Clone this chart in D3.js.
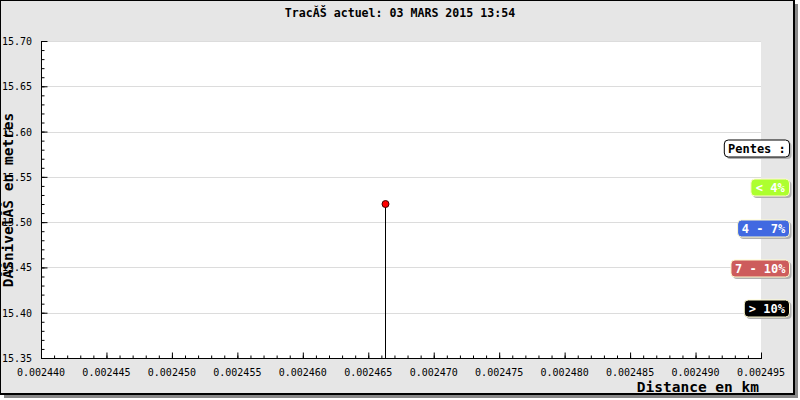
<!DOCTYPE html>
<html>
<head>
<meta charset="utf-8">
<script src="https://cdn.jsdelivr.net/npm/d3@7/dist/d3.min.js"></script>
<style>
  html, body { margin: 0; padding: 0; background: #fff; }
  svg { display: block; }
</style>
</head>
<body>
<script>
// ---- data ----
const titleText = "Trac\u0102\u0160 actuel: 03 MARS 2015 13:54";
const yLabelText = "D\u0102\u0160nivel\u0102\u0160 en metres";
const xLabelText = "Distance en km";
const distance = [0.0024663];
const elevation = [15.52];
const xDomain = [0.002440, 0.002495];
const yDomain = [15.35, 15.70];
const xTickValues = [0.002440, 0.002445, 0.002450, 0.002455, 0.002460, 0.002465, 0.002470, 0.002475, 0.002480, 0.002485, 0.002490, 0.002495];
const yTickValues = [15.35, 15.40, 15.45, 15.50, 15.55, 15.60, 15.65, 15.70];
const legendTitle = "Pentes :";
const legendLabels = ["< 4%", "4 - 7%", "7 - 10%", "> 10%"];
const legendColors = ["#adff2f", "#4169e1", "#cd5c5c", "#000000"];

// ---- layout ----
const W = 800, H = 400;
const plot = { left: 41, top: 41, right: 761, bottom: 358 };
const mono = "'DejaVu Sans Mono', 'Liberation Mono', monospace";

const svg = d3.select("body").append("svg").attr("width", W).attr("height", H);

// frame with shadow
svg.append("rect").attr("x", 4).attr("y", 4).attr("width", 794).attr("height", 394).attr("fill", "#888");
svg.append("rect").attr("x", 0.5).attr("y", 0.5).attr("width", 793).attr("height", 393)
  .attr("fill", "#e6e6e6").attr("stroke", "#000").attr("stroke-width", 1);
svg.append("line").attr("x1", 794).attr("x2", 794).attr("y1", 0).attr("y2", 395).attr("stroke", "#000").attr("stroke-width", 2);
svg.append("line").attr("x1", 0).attr("x2", 795).attr("y1", 394).attr("y2", 394).attr("stroke", "#000").attr("stroke-width", 2);

// plot area
svg.append("rect").attr("x", plot.left).attr("y", plot.top)
  .attr("width", plot.right - plot.left).attr("height", plot.bottom - plot.top).attr("fill", "#fff");

const x = d3.scaleLinear().domain(xDomain).range([plot.left, plot.right]);
const y = d3.scaleLinear().domain(yDomain).range([plot.bottom, plot.top]);

// gridlines
svg.append("g").selectAll("line").data(yTickValues.slice(1)).join("line")
  .attr("x1", plot.left).attr("x2", plot.right)
  .attr("y1", d => Math.round(y(d)) + 0.5).attr("y2", d => Math.round(y(d)) + 0.5)
  .attr("stroke", "#dcdcdc").attr("stroke-width", 1);

// minor ticks
const xMinor = d3.range(0, 56).map(i => xDomain[0] + i * 0.000001);
const yMinor = d3.range(0, 36).map(i => yDomain[0] + i * 0.01);

const xAxisMinor = d3.axisTop(x).tickValues(xMinor).tickSize(3).tickFormat("");
const xAxisMajor = d3.axisTop(x).tickValues(xTickValues).tickSize(6).tickFormat("");
[xAxisMinor, xAxisMajor].forEach(ax => {
  const g = svg.append("g").attr("transform", `translate(0,${plot.bottom + 0.5})`).call(ax);
  g.select(".domain").remove();
  g.selectAll("line").attr("stroke", "#000");
});
const yAxisMinor = d3.axisRight(y).tickValues(yMinor).tickSize(3).tickFormat("");
const yAxisMajor = d3.axisRight(y).tickValues(yTickValues).tickSize(6).tickFormat("");
[yAxisMinor, yAxisMajor].forEach(ax => {
  const g = svg.append("g").attr("transform", `translate(${plot.left + 0.5},0)`).call(ax);
  g.select(".domain").remove();
  g.selectAll("line").attr("stroke", "#000");
});

// axis lines
svg.append("line").attr("x1", plot.left + 0.5).attr("x2", plot.left + 0.5).attr("y1", plot.top).attr("y2", plot.bottom + 1).attr("stroke", "#000");
svg.append("line").attr("x1", plot.left).attr("x2", plot.right + 1).attr("y1", plot.bottom + 0.5).attr("y2", plot.bottom + 0.5).attr("stroke", "#000");

// tick labels
svg.append("g").selectAll("text").data(xTickValues).join("text")
  .attr("x", d => x(d)).attr("y", 376)
  .attr("text-anchor", "middle").attr("font-family", mono).attr("font-size", 10).attr("fill", "#000")
  .text(d => d.toFixed(6));
svg.append("g").selectAll("text").data(yTickValues).join("text")
  .attr("x", 2).attr("y", d => y(d) + 4)
  .attr("font-family", mono).attr("font-size", 10).attr("fill", "#000")
  .text(d => d.toFixed(2));

// title
svg.append("text").attr("x", 400).attr("y", 17).attr("text-anchor", "middle")
  .attr("font-family", mono).attr("font-weight", "bold").attr("font-size", 11.6).text(titleText);

// axis labels
svg.append("text").attr("x", 759).attr("y", 392).attr("text-anchor", "end")
  .attr("font-family", mono).attr("font-weight", "bold").attr("font-size", 14.5).text(xLabelText);
svg.append("text").attr("transform", "translate(13,200) rotate(-90)").attr("text-anchor", "middle")
  .attr("font-family", mono).attr("font-weight", "bold").attr("font-size", 14.5).text(yLabelText);

// data: stem + point
const pts = distance.map((d, i) => ({ x: d, y: elevation[i] }));
svg.append("g").selectAll("line").data(pts).join("line")
  .attr("x1", d => Math.round(x(d.x)) + 0.5).attr("x2", d => Math.round(x(d.x)) + 0.5)
  .attr("y1", d => y(d.y)).attr("y2", plot.bottom)
  .attr("stroke", "#000").attr("stroke-width", 1);
svg.append("g").selectAll("circle").data(pts).join("circle")
  .attr("cx", d => Math.round(x(d.x)) + 0.5).attr("cy", d => y(d.y)).attr("r", 3.5)
  .attr("fill", "#ff0000").attr("stroke", "#400").attr("stroke-width", 1);

// legend
const legRight = 789;
const legendItems = [{ label: legendTitle, fill: "#fff", stroke: "#000", text: "#000" }]
  .concat(legendLabels.map((l, i) => ({ label: l, fill: legendColors[i], stroke: "#fffacd", text: "#fff" })));
const legendY = [148.5, 187.5, 228.5, 268.5, 308.5];
const charW = 6.65;
legendItems.forEach((it, i) => {
  const w = it.label.length * charW + 12;
  const g = svg.append("g").attr("transform", `translate(${legRight - w},${legendY[i] - 9})`);
  g.append("rect").attr("x", 2.5).attr("y", 2.5).attr("width", w).attr("height", 17).attr("rx", 4)
    .attr("fill", "#b0b0b0");
  g.append("rect").attr("x", 0.5).attr("y", 0.5).attr("width", w).attr("height", 17).attr("rx", 4)
    .attr("fill", it.fill).attr("stroke", it.stroke).attr("stroke-width", 1);
  g.append("text").attr("x", w / 2 + 0.5).attr("y", 13.5).attr("text-anchor", "middle")
    .attr("font-family", mono).attr("font-weight", "bold").attr("font-size", 12)
    .attr("fill", it.text).text(it.label);
});
</script>
</body>
</html>
